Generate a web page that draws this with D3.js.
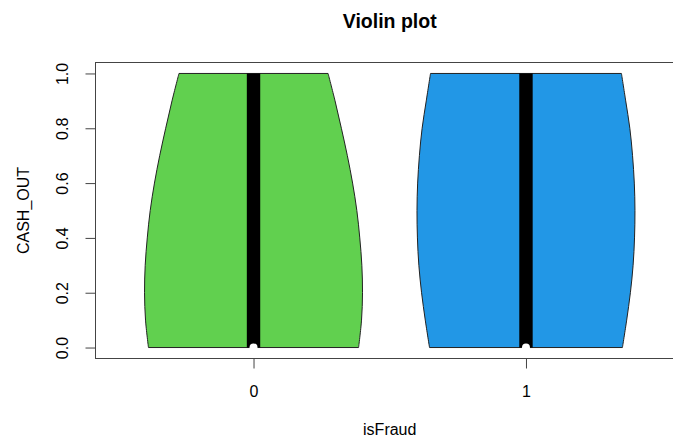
<!DOCTYPE html>
<html>
<head>
<meta charset="utf-8">
<script src="https://cdn.jsdelivr.net/npm/d3@7"></script>
<style>
  html, body { margin: 0; padding: 0; background: #fff; }
  svg { display: block; font-family: "Liberation Sans", Arial, sans-serif; }
</style>
</head>
<body>
<svg id="chart" width="673" height="441"></svg>
<script>
// Groups and their fill colours
const categories = ["0", "1"];
const fills = ["#61D04F", "#2297E6"];

// Kernel density estimate of CASH_OUT per group, on a common grid
const gridValues = [0, 0.1, 0.2, 0.3, 0.4, 0.5, 0.6, 0.7, 0.8, 0.9, 1.0];
const densityFraud0 = [0.964, 0.991, 1.0, 0.994, 0.975, 0.948, 0.909, 0.861, 0.806, 0.748, 0.684];
const densityFraud1 = [0.885, 0.924, 0.958, 0.983, 0.996, 1.0, 0.994, 0.978, 0.953, 0.915, 0.876];

// Box statistics (lower quartile, median, upper quartile) per group
const q1Values = [0, 0];
const medianValues = [0, 0];
const q3Values = [1, 1];

// Axis ticks
const yTicks = [0.0, 0.2, 0.4, 0.6, 0.8, 1.0];
const xTicks = [1, 2];

const densities = [densityFraud0, densityFraud1];

const svg = d3.select("#chart");
const plot = { left: 95.5, right: 684, top: 62.5, bottom: 358.5 };

// Base-graphics style ranges: data range padded by 4% on each side
const x = d3.scaleLinear().domain([0.42, 2.58]).range([plot.left, plot.right]);
const y = d3.scaleLinear().domain([-0.04, 1.04]).range([plot.bottom, plot.top]);

// Each violin is scaled so its widest point spans 0.4 units on either side
categories.forEach((cat, i) => {
  const dens = densities[i];
  const center = i + 1;
  const hw = d3.scaleLinear().domain([0, d3.max(dens)]).range([0, 0.4]);
  const pts = gridValues.map((v, k) => ({ v, w: hw(dens[k]) }));

  const right = d3.line()
    .x(d => x(center + d.w))
    .y(d => y(d.v))
    .curve(d3.curveCatmullRom);
  const left = d3.line()
    .x(d => x(center - d.w))
    .y(d => y(d.v))
    .curve(d3.curveCatmullRom);

  const rightPath = right(pts);
  const leftPath = left(pts.slice().reverse()).replace(/^M/, "L");

  svg.append("path")
    .attr("d", rightPath + leftPath + "Z")
    .attr("fill", fills[i])
    .attr("stroke", "#222")
    .attr("stroke-width", 1);

  // Interquartile box
  const boxHalf = 6.7;
  svg.append("rect")
    .attr("x", x(center) - boxHalf)
    .attr("y", y(q3Values[i]))
    .attr("width", boxHalf * 2)
    .attr("height", y(q1Values[i]) - y(q3Values[i]))
    .attr("fill", "#000");

  // Median marker
  svg.append("circle")
    .attr("cx", x(center))
    .attr("cy", y(medianValues[i]))
    .attr("r", 4)
    .attr("fill", "#fff");
});

// Plot frame
svg.append("rect")
  .attr("x", plot.left)
  .attr("y", plot.top)
  .attr("width", plot.right - plot.left)
  .attr("height", plot.bottom - plot.top)
  .attr("fill", "none")
  .attr("stroke", "#444")
  .attr("stroke-width", 1);

// Y axis
const yAxis = d3.axisLeft(y)
  .tickValues(yTicks)
  .tickSize(10)
  .tickPadding(0)
  .tickFormat(d3.format(".1f"));
const gy = svg.append("g")
  .attr("transform", `translate(${plot.left},0)`)
  .call(yAxis);
gy.select(".domain").attr("stroke", "#444")
  .attr("d", `M0,${y(yTicks[0])}V${y(yTicks[yTicks.length - 1])}`);
gy.selectAll(".tick line").attr("stroke", "#444");
gy.selectAll(".tick text")
  .attr("x", 0).attr("y", 0)
  .attr("dy", null)
  .attr("transform", "translate(-27.5,0) rotate(-90)")
  .attr("text-anchor", "middle")
  .attr("font-size", 16)
  .attr("font-family", "Liberation Sans, Arial, sans-serif")
  .attr("fill", "#000");

// X axis
const xAxis = d3.axisBottom(x)
  .tickValues(xTicks)
  .tickSize(10)
  .tickFormat((d, i) => categories[i]);
const gx = svg.append("g")
  .attr("transform", `translate(0,${plot.bottom})`)
  .call(xAxis);
gx.select(".domain").remove();
gx.selectAll(".tick line").attr("stroke", "#444");
gx.selectAll(".tick text")
  .attr("y", 38)
  .attr("dy", null)
  .attr("font-size", 16)
  .attr("font-family", "Liberation Sans, Arial, sans-serif")
  .attr("fill", "#000");

// Title and axis labels
const midX = (plot.left + plot.right) / 2;
const midY = (plot.top + plot.bottom) / 2;

svg.append("text")
  .attr("x", midX)
  .attr("y", 27.5)
  .attr("text-anchor", "middle")
  .attr("font-size", 19.5)
  .attr("font-weight", "bold")
  .text("Violin plot");

svg.append("text")
  .attr("x", midX)
  .attr("y", 435)
  .attr("text-anchor", "middle")
  .attr("font-size", 16)
  .text("isFraud");

svg.append("text")
  .attr("transform", `translate(29,${midY}) rotate(-90)`)
  .attr("text-anchor", "middle")
  .attr("font-size", 16)
  .text("CASH_OUT");
</script>
</body>
</html>
